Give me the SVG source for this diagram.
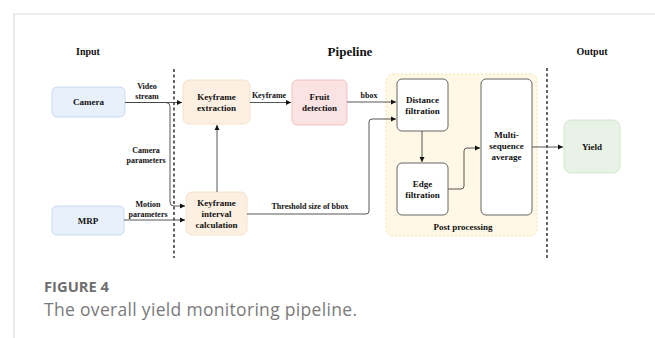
<svg xmlns="http://www.w3.org/2000/svg" width="655" height="338" viewBox="0 0 655 338">
<defs>
<marker id="ah" markerWidth="6" markerHeight="6" refX="5" refY="3" orient="auto" markerUnits="userSpaceOnUse">
<path d="M0,0.5 L5,3 L0,5.5 Z" fill="#111"/>
</marker>
<style>
.t{font-family:"Liberation Serif","Times New Roman",serif;font-weight:bold;fill:#111;text-anchor:middle}
.n{font-size:9px}
.l{font-size:8px}
.h{font-size:10px}
.c{fill:none;stroke:#444;stroke-width:0.9}
.dl{stroke:#111;stroke-width:1.3;stroke-dasharray:3,2.5}
.w{fill:#fff;stroke:#555;stroke-width:0.9}
</style>
</defs>
<rect width="655" height="338" fill="#fff"/>
<path d="M14,338 V14 H655" fill="none" stroke="#ddd" stroke-width="1.2"/>

<text class="t h" x="88" y="55">Input</text>
<text class="t" x="350" y="56" font-size="13">Pipeline</text>
<text class="t h" x="592" y="55">Output</text>

<line class="dl" x1="174" y1="69" x2="174" y2="258"/>
<line class="dl" x1="547" y1="68" x2="547" y2="258"/>

<g id="postproc">
<rect x="386" y="74" width="151" height="162" rx="7" fill="#fff8e6" stroke="#f5df9f" stroke-width="0.9" stroke-dasharray="2,2"/>
<text class="t n" x="463" y="230">Post processing</text>
</g>

<g id="camera">
<rect x="52" y="87" width="73" height="30" rx="5" fill="#e8f0fb" stroke="#c4d7ef" stroke-width="0.9"/>
<text class="t n" x="88.5" y="105">Camera</text>
</g>
<g id="mrp">
<rect x="52" y="206" width="72" height="29" rx="5" fill="#e8f0fb" stroke="#c4d7ef" stroke-width="0.9"/>
<text class="t n" x="88" y="223.5">MRP</text>
</g>
<g id="kfext">
<rect x="183" y="80" width="67" height="44" rx="6" fill="#fdf0e2" stroke="#f6dfc6" stroke-width="0.9"/>
<text class="t n" x="216.5" y="100">Keyframe</text>
<text class="t n" x="216.5" y="111">extraction</text>
</g>
<g id="fruit">
<rect x="292" y="80" width="55" height="45" rx="5" fill="#fbe3e3" stroke="#eebcbc" stroke-width="0.9"/>
<text class="t n" x="319.5" y="100">Fruit</text>
<text class="t n" x="319.5" y="111">detection</text>
</g>
<g id="kfint">
<rect x="186" y="192" width="61" height="43" rx="6" fill="#fdf0e2" stroke="#f6dfc6" stroke-width="0.9"/>
<text class="t n" x="216.5" y="206">Keyframe</text>
<text class="t n" x="216.5" y="217">interval</text>
<text class="t n" x="216.5" y="228">calculation</text>
</g>
<g id="distance">
<rect class="w" x="397" y="79" width="51" height="52" rx="5"/>
<text class="t n" x="422.5" y="103">Distance</text>
<text class="t n" x="422.5" y="114">filtration</text>
</g>
<g id="edge">
<rect class="w" x="397" y="163" width="51" height="52" rx="5"/>
<text class="t n" x="422.5" y="187">Edge</text>
<text class="t n" x="422.5" y="198">filtration</text>
</g>
<g id="multi">
<rect class="w" x="481" y="79" width="51" height="136" rx="5"/>
<text class="t n" x="506.5" y="138">Multi-</text>
<text class="t n" x="506.5" y="149">sequence</text>
<text class="t n" x="506.5" y="160">average</text>
</g>
<g id="yield">
<rect x="564" y="120" width="56" height="53" rx="7" fill="#e8f2e6" stroke="#cfe3c8" stroke-width="0.9"/>
<text class="t n" x="592" y="150">Yield</text>
</g>

<g id="connectors">
<path class="c" d="M125,102.5 H182" marker-end="url(#ah)"/>
<path class="c" d="M125,102.5 H166 Q170,102.5 170,106.5 V202 Q170,206 174,206 H185" marker-end="url(#ah)"/>
<path class="c" d="M124,220 H185" marker-end="url(#ah)"/>
<path class="c" d="M217,192 V125" marker-end="url(#ah)"/>
<path class="c" d="M250,102.5 H291" marker-end="url(#ah)"/>
<path class="c" d="M347,102 H396" marker-end="url(#ah)"/>
<path class="c" d="M247,214 H366 Q369,214 369,211 V122 Q369,119 372,119 H396" marker-end="url(#ah)"/>
<path class="c" d="M422,131 V162" marker-end="url(#ah)"/>
<path class="c" d="M448,189 H461 Q464,189 464,186 V151 Q464,148 467,148 H480" marker-end="url(#ah)"/>
<path class="c" d="M532,147 H563" marker-end="url(#ah)"/>
<text class="t l" x="147" y="89">Video</text>
<text class="t l" x="147" y="99">stream</text>
<text class="t l" x="146" y="153">Camera</text>
<text class="t l" x="146" y="163">parameters</text>
<text class="t l" x="148" y="207">Motion</text>
<text class="t l" x="148" y="217">parameters</text>
<text class="t l" x="269" y="98">Keyframe</text>
<text class="t l" x="369" y="98">bbox</text>
<text class="t l" x="310" y="209">Threshold size of bbox</text>
</g>

<text x="44" y="292" font-family="'Open Sans','Lato',sans-serif" font-size="13.5" font-weight="bold" fill="#6f6f6f" textLength="65" lengthAdjust="spacingAndGlyphs">FIGURE 4</text>
<text x="44" y="316" font-family="'Open Sans','Lato',sans-serif" font-size="17.5" fill="#7a7a7a" textLength="313" lengthAdjust="spacing">The overall yield monitoring pipeline.</text>
</svg>
